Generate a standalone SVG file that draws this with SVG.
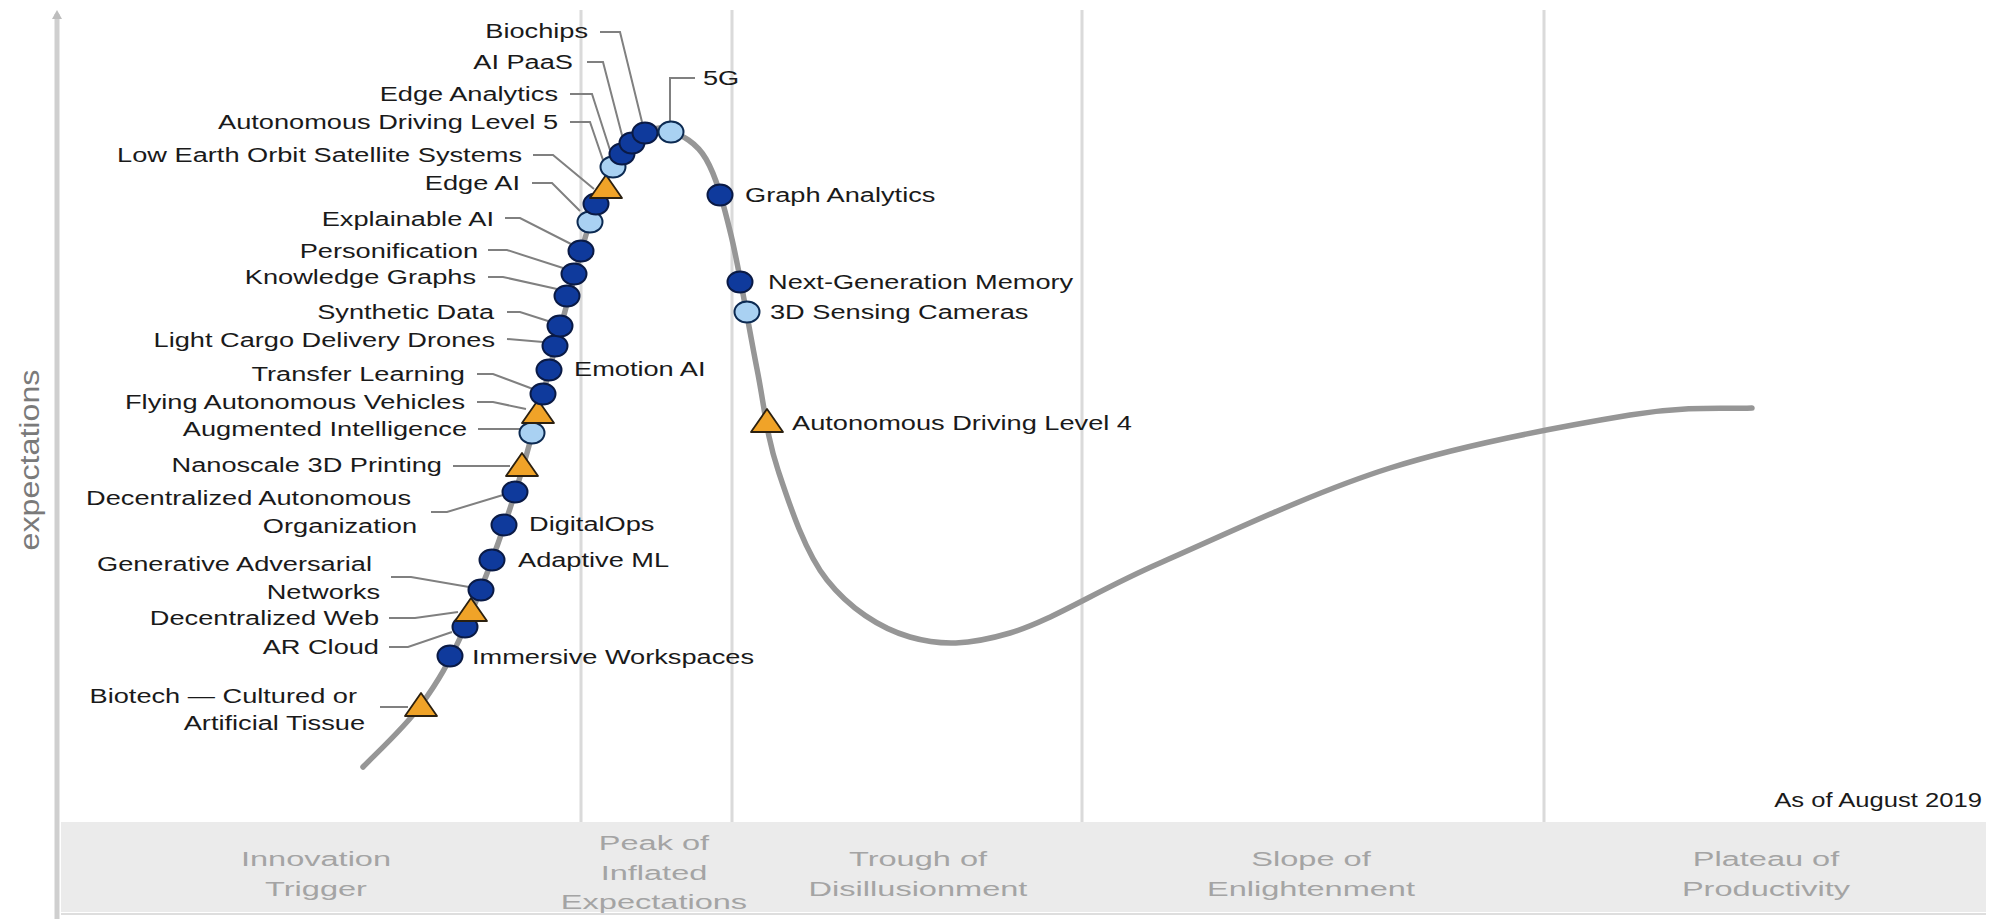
<svg xmlns="http://www.w3.org/2000/svg" xmlns:xlink="http://www.w3.org/1999/xlink" width="1994" height="919" viewBox="0 0 1994 919">
<style>
  text { font-family: "Liberation Sans", Arial, sans-serif; }
  .l { font-size: 20px; fill: #1a1a1a; text-anchor: end; }
  .r { font-size: 20px; fill: #1a1a1a; text-anchor: start; }
  .ph { font-size: 21px; fill: #a4a4a4; text-anchor: middle; }
  .lead { fill: none; stroke: #808080; stroke-width: 2; }
  .dk { fill: #0f3a9c; stroke: #0a1a45; stroke-width: 2; }
  .lt { fill: #a9d1f2; stroke: #0c2a52; stroke-width: 2; }
  .tri { fill: #f0a328; stroke: #2b2010; stroke-width: 1.8; stroke-linejoin: round; }
  .sep { stroke: #dadada; stroke-width: 3; }
</style>
<defs>
  <ellipse id="dot" cx="0" cy="0" rx="12.5" ry="10.5"/>
  <path id="tr" d="M0,-13 L16,10 L-16,10 Z"/>
</defs>
<rect width="1994" height="919" fill="#ffffff"/>

<g id="frame">
  <line class="sep" x1="581" y1="10" x2="581" y2="822"/>
  <line class="sep" x1="732" y1="10" x2="732" y2="822"/>
  <line class="sep" x1="1082" y1="10" x2="1082" y2="822"/>
  <line class="sep" x1="1544" y1="10" x2="1544" y2="822"/>
  <rect x="61" y="822" width="1925" height="90" fill="#ebebeb"/>
  <line x1="61" y1="914" x2="1986" y2="914" stroke="#dedede" stroke-width="2"/>
  <line x1="57" y1="14" x2="57" y2="919" stroke="#cfcfcf" stroke-width="5"/>
  <path d="M52,19 L57,10 L62,19 Z" fill="#bdbdbd"/>
  <text transform="translate(39 460) rotate(-90)" font-size="27" fill="#7a7a7a" text-anchor="middle" textLength="181" lengthAdjust="spacingAndGlyphs">expectations</text>
  <text class="ph" transform="translate(316 866) scale(1.55 1)">Innovation</text>
  <text class="ph" transform="translate(316 896) scale(1.55 1)">Trigger</text>
  <text class="ph" transform="translate(654 850) scale(1.55 1)">Peak of</text>
  <text class="ph" transform="translate(654 880) scale(1.55 1)">Inflated</text>
  <text class="ph" transform="translate(654 909) scale(1.55 1)">Expectations</text>
  <text class="ph" transform="translate(918 866) scale(1.55 1)">Trough of</text>
  <text class="ph" transform="translate(918 896) scale(1.55 1)">Disillusionment</text>
  <text class="ph" transform="translate(1311 866) scale(1.55 1)">Slope of</text>
  <text class="ph" transform="translate(1311 896) scale(1.55 1)">Enlightenment</text>
  <text class="ph" transform="translate(1766 866) scale(1.55 1)">Plateau of</text>
  <text class="ph" transform="translate(1766 896) scale(1.55 1)">Productivity</text>
  <text class="l" transform="translate(1982 807) scale(1.28 1)" font-size="21">As of August 2019</text>
</g>

<g id="curve">
  <path fill="none" stroke="#969696" stroke-width="5.5" stroke-linecap="round" d="M363,767 C372.7,756.7 404,728.3 421,705 C438,681.7 449.2,662.8 465,627 C480.8,591.2 500,540.2 516,490 C532,439.8 548.7,370.7 561,326 C573.3,281.3 581.3,248.5 590,222 C598.7,195.5 603.8,181.8 613,167 C622.2,152.2 635.3,139 645,133 C654.7,127 660.8,126.7 671,131 C681.2,135.3 696,141.7 706,159 C716,176.3 722.5,200 731,235 C739.5,270 749.2,329.8 757,369 C764.8,408.2 766.3,434.8 778,470 C789.7,505.2 805,552.2 827,580 C849,607.8 879.5,628.2 910,637 C940.5,645.8 968.3,645.3 1010,633 C1051.7,620.7 1096.7,590.5 1160,563 C1223.3,535.5 1311.7,492.7 1390,468 C1468.3,443.3 1569.7,425 1630,415 C1690.3,405 1731.7,409.2 1752,408"/>
</g>

<g id="connectors">
  <path class="lead" d="M380,707 H408"/>
  <path class="lead" d="M389,647 H408 L452,632"/>
  <path class="lead" d="M389,618 H415 L458,612"/>
  <path class="lead" d="M391,577 H411 L469,587"/>
  <path class="lead" d="M431,512 H447 L503,495"/>
  <path class="lead" d="M453,466 H510"/>
  <path class="lead" d="M478,429 H520"/>
  <path class="lead" d="M477,402 H493 L526,409"/>
  <path class="lead" d="M477,374 H493 L533,389"/>
  <path class="lead" d="M507,339 L543,342"/>
  <path class="lead" d="M507,312 H520 L548,321"/>
  <path class="lead" d="M488,277 H503 L557,289"/>
  <path class="lead" d="M488,250 H507 L563,268"/>
  <path class="lead" d="M505,218 H520 L571,244"/>
  <path class="lead" d="M532,183 H552 L580,211"/>
  <path class="lead" d="M533,155 H553 L594,189"/>
  <path class="lead" d="M570,122 H590 L603,160"/>
  <path class="lead" d="M570,94 H592 L610,150"/>
  <path class="lead" d="M587,62 H603 L623,139"/>
  <path class="lead" d="M600,32 H620 L642,122"/>
  <path class="lead" d="M670,121 V78 H695"/>
</g>

<g id="n-biotech"><use href="#tr" class="tri" x="421" y="706"/>
  <text class="l" transform="translate(357 703) scale(1.36 1)">Biotech — Cultured or</text>
  <text class="l" transform="translate(365 730) scale(1.36 1)">Artificial Tissue</text></g>
<g id="n-immersive"><use href="#dot" class="dk" x="450" y="656"/>
  <text class="r" transform="translate(472 664) scale(1.36 1)">Immersive Workspaces</text></g>
<g id="n-arcloud"><use href="#dot" class="dk" x="465" y="627"/>
  <text class="l" transform="translate(379 654) scale(1.36 1)">AR Cloud</text></g>
<g id="n-decweb"><use href="#tr" class="tri" x="471" y="611"/>
  <text class="l" transform="translate(379 625) scale(1.36 1)">Decentralized Web</text></g>
<g id="n-gan"><use href="#dot" class="dk" x="481" y="590"/>
  <text class="l" transform="translate(372 571) scale(1.36 1)">Generative Adversarial</text>
  <text class="l" transform="translate(380 599) scale(1.36 1)">Networks</text></g>
<g id="n-adaptiveml"><use href="#dot" class="dk" x="492" y="560"/>
  <text class="r" transform="translate(518 567) scale(1.36 1)">Adaptive ML</text></g>
<g id="n-digitalops"><use href="#dot" class="dk" x="504" y="525"/>
  <text class="r" transform="translate(529 531) scale(1.36 1)">DigitalOps</text></g>
<g id="n-dao"><use href="#dot" class="dk" x="515" y="492"/>
  <text class="l" transform="translate(411 505) scale(1.36 1)">Decentralized Autonomous</text>
  <text class="l" transform="translate(417 533) scale(1.36 1)">Organization</text></g>
<g id="n-nano3d"><use href="#tr" class="tri" x="522" y="466"/>
  <text class="l" transform="translate(442 472) scale(1.36 1)">Nanoscale 3D Printing</text></g>
<g id="n-augmented"><use href="#dot" class="lt" x="532" y="433"/>
  <text class="l" transform="translate(467 436) scale(1.36 1)">Augmented Intelligence</text></g>
<g id="n-flying"><use href="#tr" class="tri" x="538" y="413"/>
  <text class="l" transform="translate(465 409) scale(1.36 1)">Flying Autonomous Vehicles</text></g>
<g id="n-transfer"><use href="#dot" class="dk" x="543" y="394"/>
  <text class="l" transform="translate(465 381) scale(1.36 1)">Transfer Learning</text></g>
<g id="n-emotion"><use href="#dot" class="dk" x="549" y="370"/>
  <text class="r" transform="translate(574 376) scale(1.36 1)">Emotion AI</text></g>
<g id="n-drones"><use href="#dot" class="dk" x="555" y="346"/>
  <text class="l" transform="translate(495 347) scale(1.36 1)">Light Cargo Delivery Drones</text></g>
<g id="n-synthetic"><use href="#dot" class="dk" x="560" y="326"/>
  <text class="l" transform="translate(494 319) scale(1.36 1)">Synthetic Data</text></g>
<g id="n-knowledge"><use href="#dot" class="dk" x="567" y="296"/>
  <text class="l" transform="translate(476 284) scale(1.36 1)">Knowledge Graphs</text></g>
<g id="n-personification"><use href="#dot" class="dk" x="574" y="274"/>
  <text class="l" transform="translate(478 258) scale(1.36 1)">Personification</text></g>
<g id="n-explainable"><use href="#dot" class="dk" x="581" y="251"/>
  <text class="l" transform="translate(494 226) scale(1.36 1)">Explainable AI</text></g>
<g id="n-edgeai"><use href="#dot" class="lt" x="590" y="222"/>
  <text class="l" transform="translate(520 190) scale(1.36 1)">Edge AI</text></g>
<g id="n-dot-596"><use href="#dot" class="dk" x="596" y="204"/></g>
<g id="n-leo"><use href="#tr" class="tri" x="606" y="188"/>
  <text class="l" transform="translate(522 162) scale(1.36 1)">Low Earth Orbit Satellite Systems</text></g>
<g id="n-adl5"><use href="#dot" class="lt" x="613" y="167"/>
  <text class="l" transform="translate(558 129) scale(1.36 1)">Autonomous Driving Level 5</text></g>
<g id="n-edgeanalytics"><use href="#dot" class="dk" x="622" y="154"/>
  <text class="l" transform="translate(558 101) scale(1.36 1)">Edge Analytics</text></g>
<g id="n-aipaas"><use href="#dot" class="dk" x="632" y="143"/>
  <text class="l" transform="translate(573 69) scale(1.36 1)">AI PaaS</text></g>
<g id="n-biochips"><use href="#dot" class="dk" x="645" y="133"/>
  <text class="l" transform="translate(588 38) scale(1.36 1)">Biochips</text></g>
<g id="n-5g"><use href="#dot" class="lt" x="671" y="132"/>
  <text class="r" transform="translate(703 85) scale(1.36 1)">5G</text></g>
<g id="n-graph"><use href="#dot" class="dk" x="720" y="195"/>
  <text class="r" transform="translate(745 202) scale(1.36 1)">Graph Analytics</text></g>
<g id="n-nextgen"><use href="#dot" class="dk" x="740" y="282"/>
  <text class="r" transform="translate(768 289) scale(1.36 1)">Next-Generation Memory</text></g>
<g id="n-3dsensing"><use href="#dot" class="lt" x="747" y="312"/>
  <text class="r" transform="translate(770 319) scale(1.36 1)">3D Sensing Cameras</text></g>
<g id="n-adl4"><use href="#tr" class="tri" x="767" y="422"/>
  <text class="r" transform="translate(792 430) scale(1.36 1)">Autonomous Driving Level 4</text></g>
</svg>
